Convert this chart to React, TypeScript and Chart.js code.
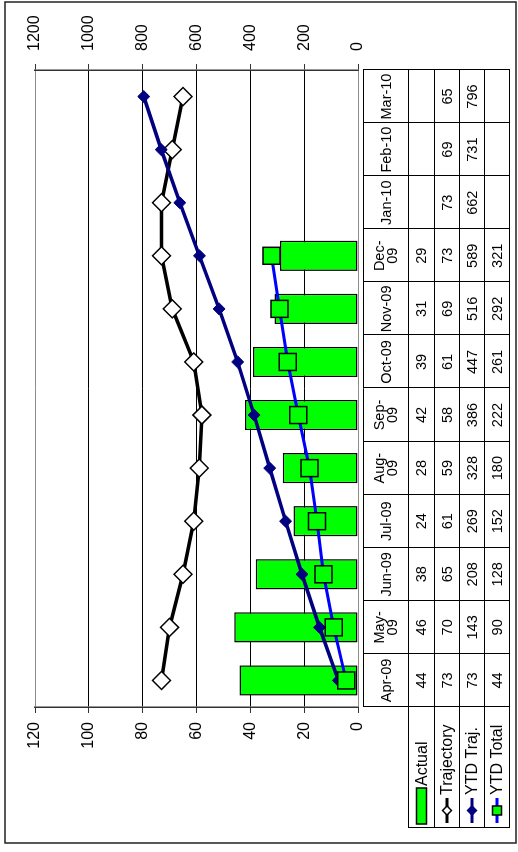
import { useEffect, useRef } from "react";
import { Chart, registerables } from "chart.js";

Chart.register(...registerables);

// Months on the category axis
const months = [
  "Apr-09", "May-09", "Jun-09", "Jul-09", "Aug-09", "Sep-09",
  "Oct-09", "Nov-09", "Dec-09", "Jan-10", "Feb-10", "Mar-10",
];
// Header text of the data table (some headers wrap onto two lines)
const monthHeaders = [
  ["Apr-09"], ["May-", "09"], ["Jun-09"], ["Jul-09"], ["Aug-", "09"], ["Sep-", "09"],
  ["Oct-09"], ["Nov-09"], ["Dec-", "09"], ["Jan-10"], ["Feb-10"], ["Mar-10"],
];

const actual = [44, 46, 38, 24, 28, 42, 39, 31, 29, null, null, null];
const trajectory = [73, 70, 65, 61, 59, 58, 61, 69, 73, 73, 69, 65];
const ytdTraj = [73, 143, 208, 269, 328, 386, 447, 516, 589, 662, 731, 796];
const ytdTotal = [44, 90, 128, 152, 180, 222, 261, 292, 321, null, null, null];

const leftAxisMax = 120;
const leftAxisStep = 20;
const rightAxisMax = 1200;
const rightAxisStep = 200;

const seriesNames = ["Actual", "Trajectory", "YTD Traj.", "YTD Total"];

// Chart is laid out landscape and then turned a quarter turn
const W = 852;
const H = 518;
const FONT = '"Liberation Sans", Arial, Helvetica, sans-serif';

const GREEN = "#00FF00";
const NAVY = "#000080";
const BLUE = "#0000FF";

function drawDiamond(ctx: CanvasRenderingContext2D, x: number, y: number, r: number, fill: string, stroke: string) {
  ctx.beginPath();
  ctx.moveTo(x, y - r);
  ctx.lineTo(x + r, y);
  ctx.lineTo(x, y + r);
  ctx.lineTo(x - r, y);
  ctx.closePath();
  ctx.fillStyle = fill;
  ctx.fill();
  ctx.lineWidth = 1.5;
  ctx.strokeStyle = stroke;
  ctx.stroke();
}

const tablePlugin = {
  id: "dataTable",
  afterDraw(chart: any) {
    const ctx: CanvasRenderingContext2D = chart.ctx;
    const { left, right } = chart.chartArea;
    const xs = chart.scales.x;
    const n = months.length;
    const colW = (right - left) / n;
    const tableTop = 363;
    const rowLines = [408, 434, 459, 484, 509];
    const legendLeft = 24;
    const rows = [actual, trajectory, ytdTraj, ytdTotal];

    ctx.save();
    ctx.strokeStyle = "#000";
    ctx.lineWidth = 1;

    // horizontal rules
    ctx.beginPath();
    ctx.moveTo(left, tableTop + 0.5);
    ctx.lineTo(right, tableTop + 0.5);
    rowLines.forEach((y) => {
      ctx.moveTo(legendLeft, y + 0.5);
      ctx.lineTo(right, y + 0.5);
    });
    // vertical rules
    for (let i = 0; i <= n; i++) {
      const x = Math.round(left + i * colW) + 0.5;
      ctx.moveTo(x, tableTop);
      ctx.lineTo(x, rowLines[rowLines.length - 1] + 1);
    }
    ctx.moveTo(legendLeft + 0.5, rowLines[0]);
    ctx.lineTo(legendLeft + 0.5, rowLines[rowLines.length - 1] + 1);
    ctx.stroke();

    // month headers
    ctx.fillStyle = "#000";
    ctx.textAlign = "center";
    ctx.textBaseline = "middle";
    ctx.font = `14.5px ${FONT}`;
    const headMid = (tableTop + rowLines[0]) / 2 + 1;
    months.forEach((_, i) => {
      const cx = xs.getPixelForValue(i);
      const lines = monthHeaders[i];
      const lh = 13;
      lines.forEach((t, k) => {
        ctx.fillText(t, cx, headMid + (k - (lines.length - 1) / 2) * lh);
      });
    });

    // values
    rows.forEach((vals, r) => {
      const cy = (rowLines[r] + rowLines[r + 1]) / 2 + 1;
      vals.forEach((v, i) => {
        if (v === null || v === undefined) return;
        ctx.fillText(String(v), xs.getPixelForValue(i), cy);
      });
    });

    // legend keys
    ctx.textAlign = "left";
    ctx.font = `16px ${FONT}`;
    seriesNames.forEach((name, r) => {
      const cy = (rowLines[r] + rowLines[r + 1]) / 2 + 0.5;
      if (r === 0) {
        ctx.fillStyle = GREEN;
        ctx.fillRect(28, cy - 5, 36, 10);
        ctx.lineWidth = 1.5;
        ctx.strokeStyle = "#000";
        ctx.strokeRect(28, cy - 5, 36, 10);
        ctx.fillStyle = "#000";
        ctx.fillText(name, 66, cy + 1);
        return;
      }
      const color = r === 1 ? "#000" : r === 2 ? NAVY : BLUE;
      ctx.beginPath();
      ctx.lineWidth = 3;
      ctx.strokeStyle = color;
      ctx.moveTo(29, cy);
      ctx.lineTo(54, cy);
      ctx.stroke();
      if (r === 1) drawDiamond(ctx, 41.5, cy, 4.5, "#fff", "#000");
      if (r === 2) drawDiamond(ctx, 41.5, cy, 4.5, NAVY, NAVY);
      if (r === 3) {
        ctx.fillStyle = GREEN;
        ctx.fillRect(37, cy - 4.5, 9, 9);
        ctx.lineWidth = 1.5;
        ctx.strokeStyle = "#000";
        ctx.strokeRect(37, cy - 4.5, 9, 9);
      }
      ctx.fillStyle = "#000";
      ctx.fillText(name, 57, cy + 1);
    });

    // outer frame
    ctx.lineWidth = 1.5;
    ctx.strokeStyle = "#222";
    ctx.strokeRect(9, 5, 841, 511);
    ctx.restore();
  },
};

export default function App() {
  const ref = useRef<HTMLCanvasElement | null>(null);

  useEffect(() => {
    if (!ref.current) return;
    const chart = new Chart(ref.current, {
      type: "bar",
      data: {
        labels: months,
        datasets: [
          {
            type: "bar",
            label: seriesNames[0],
            data: actual,
            backgroundColor: GREEN,
            borderColor: "#000",
            borderWidth: 1.5,
            borderSkipped: false,
            barPercentage: 0.57,
            categoryPercentage: 1,
            yAxisID: "y",
            order: 4,
          },
          {
            type: "line",
            label: seriesNames[1],
            data: trajectory,
            borderColor: "#000",
            borderWidth: 3.5,
            pointStyle: "rectRot",
            pointRadius: 9,
            pointBackgroundColor: "#fff",
            pointBorderColor: "#000",
            pointBorderWidth: 1.5,
            yAxisID: "y",
            order: 3,
          },
          {
            type: "line",
            label: seriesNames[2],
            data: ytdTraj,
            borderColor: NAVY,
            borderWidth: 3.5,
            pointStyle: "rectRot",
            pointRadius: 6,
            pointBackgroundColor: NAVY,
            pointBorderColor: NAVY,
            pointBorderWidth: 1,
            yAxisID: "y2",
            order: 2,
          },
          {
            type: "line",
            label: seriesNames[3],
            data: ytdTotal,
            borderColor: BLUE,
            borderWidth: 3,
            pointStyle: "rect",
            pointRadius: 12,
            pointBackgroundColor: GREEN,
            pointBorderColor: "#000",
            pointBorderWidth: 1.5,
            yAxisID: "y2",
            order: 1,
          },
        ],
      },
      options: {
        responsive: false,
        animation: false,
        devicePixelRatio: 1,
        layout: { padding: { left: 0, right: 0, top: 35, bottom: H - 358 } },
        plugins: { legend: { display: false }, tooltip: { enabled: false } },
        scales: {
          x: { display: false, offset: true },
          y: {
            position: "left",
            min: 0,
            max: leftAxisMax,
            afterFit: (s: any) => { s.width = 145; },
            ticks: {
              stepSize: leftAxisStep,
              color: "#000",
              padding: 9,
              font: { family: FONT, size: 16 },
              callback: (v: any) => String(v),
            },
            grid: {
              color: (c: any) =>
                c.tick && (c.tick.value === 0 || c.tick.value === leftAxisMax) ? "#8c8c8c" : "#000",
              lineWidth: 1,
              tickLength: 6,
              tickColor: "#333",
            },
            border: { display: true, color: "#333", width: 1.5 },
          },
          y2: {
            position: "right",
            min: 0,
            max: rightAxisMax,
            afterFit: (s: any) => { s.width = W - 782; },
            ticks: {
              stepSize: rightAxisStep,
              color: "#000",
              padding: 13,
              font: { family: FONT, size: 16 },
              callback: (v: any) => String(v),
            },
            grid: { drawOnChartArea: false, tickLength: 6, tickColor: "#333" },
            border: { display: true, color: "#333", width: 1.5 },
          },
        },
      },
      plugins: [tablePlugin],
    } as any);
    return () => chart.destroy();
  }, []);

  return (
    <div style={{ position: "absolute", left: 0, top: 0, width: H, height: W, overflow: "hidden", background: "#fff" }}>
      <div
        style={{
          position: "absolute",
          left: 0,
          top: 0,
          width: W,
          height: H,
          transformOrigin: "0 0",
          transform: `translateY(${W}px) rotate(-90deg)`,
        }}
      >
        <canvas ref={ref} width={W} height={H} style={{ width: W, height: H, display: "block" }} />
      </div>
    </div>
  );
}
